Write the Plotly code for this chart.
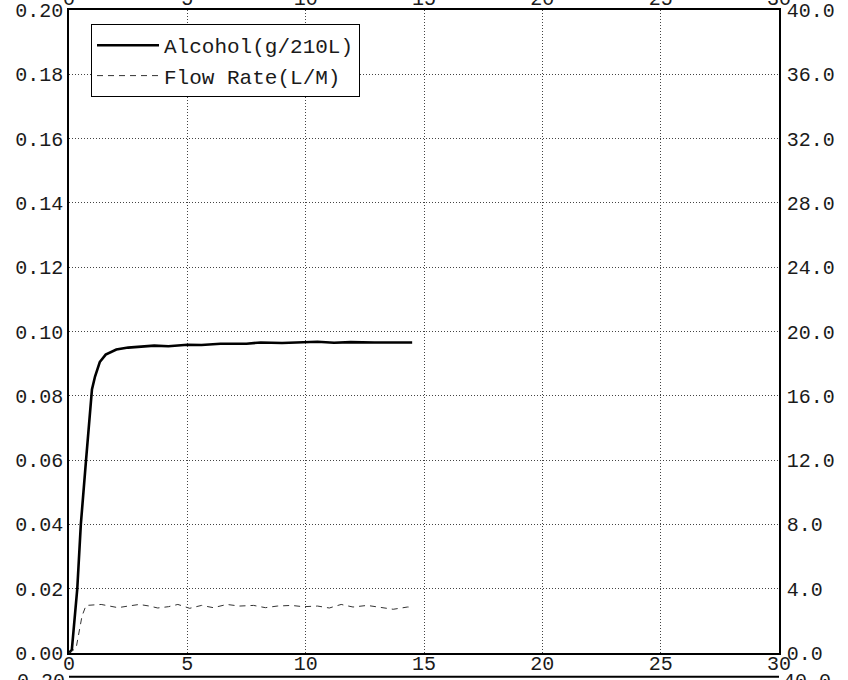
import plotly.graph_objects as go

# Breath test record: alcohol concentration (left axis) and flow rate (right axis) vs time (s)
time_alcohol = [0, 0.12, 0.35, 0.5, 0.72, 0.97, 1.1, 1.3, 1.55, 2.0, 2.5, 3.0, 3.6, 4.2,
                5.0, 5.6, 6.4, 7.5, 8.1, 9.0, 9.9, 10.5, 11.2, 11.9, 12.9, 13.7, 14.5]
alcohol = [0, 0.001, 0.02, 0.04, 0.06, 0.082, 0.086, 0.0905, 0.0928, 0.0944, 0.0950, 0.0953,
           0.0956, 0.0954, 0.0959, 0.0958, 0.0962, 0.0962, 0.0966, 0.0964, 0.0965, 0.0968,
           0.0965, 0.0967, 0.0966, 0.0966, 0.0966]

time_flow = [0, 0.3, 0.55, 0.72, 1.36, 1.78, 2.07, 2.5, 2.97, 3.4, 3.75, 4.2, 4.6, 5.1, 5.6,
             6.1, 6.67, 7.2, 7.8, 8.3, 8.8, 9.4, 9.9, 10.5, 11.0, 11.5, 12.0, 12.6, 13.2,
             13.7, 14.3, 14.5]
flow_rate = [0, 0.3, 2.3, 2.96, 3.02, 2.92, 2.82, 2.92, 3.02, 2.92, 2.80, 2.88, 3.02, 2.78,
             2.96, 2.82, 3.02, 2.92, 2.96, 2.82, 2.92, 2.96, 2.88, 2.92, 2.80, 3.02, 2.86,
             2.96, 2.82, 2.72, 2.86, 2.86]

x_ticks = [0, 5, 10, 15, 20, 25, 30]
left_ticks = [0.00, 0.02, 0.04, 0.06, 0.08, 0.10, 0.12, 0.14, 0.16, 0.18, 0.20]
right_ticks = [0.0, 4.0, 8.0, 12.0, 16.0, 20.0, 24.0, 28.0, 32.0, 36.0, 40.0]

FONT = "Liberation Mono, Courier New, monospace"
GRID = "#444444"
TEXT = "#1a1a1a"

fig = go.Figure()
fig.add_trace(go.Scatter(
    x=time_alcohol, y=alcohol, name="Alcohol(g/210L)", mode="lines",
    line=dict(color="black", width=2.6), yaxis="y",
))
fig.add_trace(go.Scatter(
    x=time_flow, y=flow_rate, name="Flow Rate(L/M)", mode="lines",
    line=dict(color="#333333", width=1, dash="6px,5px"), yaxis="y2",
))
# empty trace so the top time axis (continuation of the page's previous panel) is drawn
fig.add_trace(go.Scatter(x=[None], y=[None], xaxis="x2", showlegend=False, hoverinfo="skip"))

fig.update_layout(
    width=848, height=680,
    margin=dict(l=69, r=69, t=10, b=27),
    paper_bgcolor="white", plot_bgcolor="white",
    font=dict(family=FONT, size=20, color=TEXT),
    showlegend=True,
    legend=dict(
        x=0.031, y=0.978, xanchor="left", yanchor="top",
        bordercolor="black", borderwidth=1, bgcolor="white",
        font=dict(family=FONT, size=21, color=TEXT),
        itemwidth=62, tracegroupgap=0,
    ),
    xaxis=dict(
        range=[0, 30], tickvals=x_ticks, ticktext=[str(v) for v in x_ticks],
        showgrid=True, gridcolor=GRID, gridwidth=1, griddash="1px,2px",
        showline=True, linecolor="black", linewidth=2, mirror=True,
        ticks="", zeroline=False, automargin=False, ticklabelstandoff=-9,
    ),
    xaxis2=dict(
        range=[0, 30], tickvals=x_ticks, ticktext=[str(v) for v in x_ticks],
        overlaying="x", side="top", showgrid=False, showline=False,
        ticks="", zeroline=False, ticklabelstandoff=0, automargin=False,
    ),
    yaxis=dict(
        range=[0, 0.20], tickvals=left_ticks, ticktext=[f"{v:.2f}" for v in left_ticks],
        showgrid=True, gridcolor=GRID, gridwidth=1, griddash="1px,2px",
        showline=True, linecolor="black", linewidth=1.5,
        ticks="", zeroline=False, ticklabelstandoff=0, automargin=False,
    ),
    yaxis2=dict(
        range=[0, 40], tickvals=right_ticks, ticktext=[f"{v:.1f}" for v in right_ticks],
        overlaying="y", side="right", showgrid=False,
        showline=True, linecolor="black", linewidth=1.5,
        ticks="", zeroline=False, ticklabelstandoff=2, automargin=False,
    ),
)

# top edge of the next panel on the page, with its first tick labels
fig.add_shape(type="line", xref="paper", yref="paper", x0=0, x1=1, y0=-0.037, y1=-0.037,
              line=dict(color="black", width=2))
fig.add_annotation(text="0.20", xref="paper", yref="paper", x=0, y=-0.044,
                   xanchor="right", yanchor="middle", xshift=-2, showarrow=False,
                   font=dict(family=FONT, size=20, color=TEXT))
fig.add_annotation(text="40.0", xref="paper", yref="paper", x=1, y=-0.044,
                   xanchor="left", yanchor="middle", xshift=2, showarrow=False,
                   font=dict(family=FONT, size=20, color=TEXT))

fig.write_html("out.html")
